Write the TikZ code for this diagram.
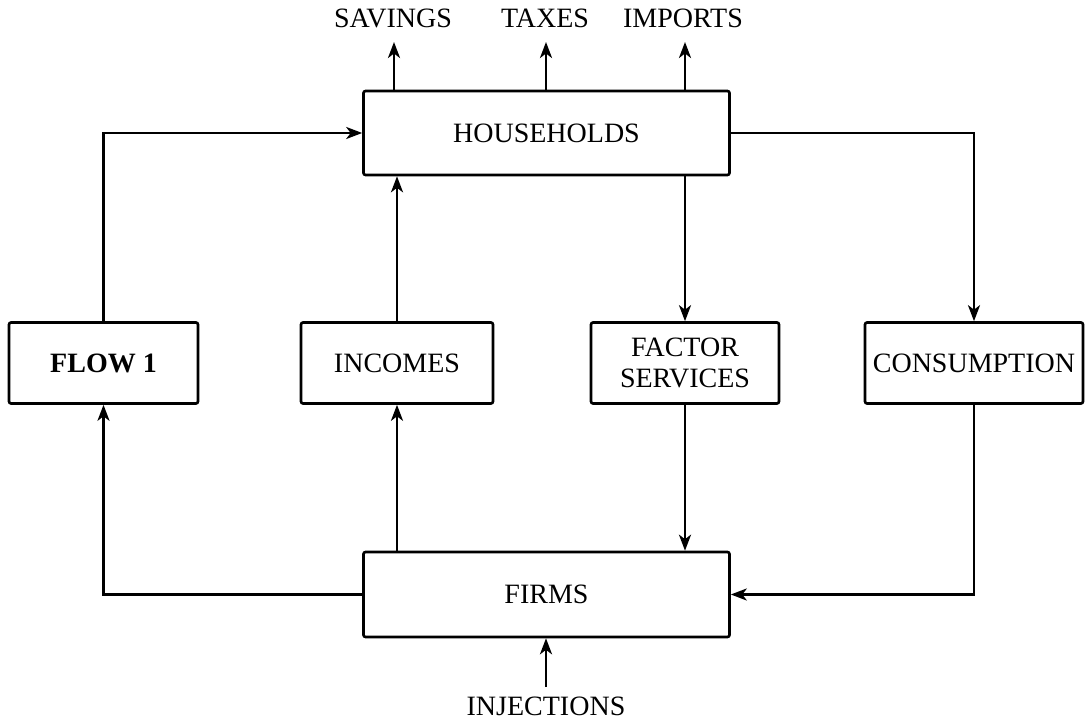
\documentclass[tikz,border=0pt]{standalone}
\usepackage{fontspec}
\setmainfont{Liberation Serif}
\usetikzlibrary{arrows.meta}
\begin{document}
\begin{tikzpicture}[x=1pt,y=-1pt,
  box/.style={draw, line width=2.6pt, rounded corners=2pt, minimum height=81pt, inner sep=0pt, align=center, font=\fontsize{28}{34}\selectfont},
  lbl/.style={inner sep=0pt, anchor=base, font=\fontsize{28}{34}\selectfont},
  arr/.style={line width=2.6pt, -{Stealth[length=16pt,width=12pt,inset=4.5pt]}},
  ln/.style={line width=2.6pt}]
\useasboundingbox (0,0) rectangle (1088,722);
\node[box, minimum width=366pt, minimum height=84pt] (hh) at (546.5,133) {HOUSEHOLDS};
\node[box, minimum width=366pt, minimum height=85pt] (firms) at (546.5,594.5) {FIRMS};
\node[box, minimum width=189pt] (flow) at (103.5,363) {\textbf{FLOW 1}};
\node[box, minimum width=192pt] (inc) at (397,363) {INCOMES};
\node[box, minimum width=188pt] (fs) at (685,363) {FACTOR\\[-3pt]SERVICES};
\node[box, minimum width=218pt] (cons) at (974,363) {CONSUMPTION};
\node[lbl] (sav) at (393,28) {SAVINGS};
\node[lbl] (tax) at (545,28) {TAXES};
\node[lbl] (imp) at (683,28) {IMPORTS};
\node[lbl] (inj) at (546,715) {INJECTIONS};
\coordinate (savtip) at (394,42);
\coordinate (taxtip) at (546,42);
\coordinate (imptip) at (685,42);
\coordinate (injtail) at (546,687);
\draw[arr] (savtip |- hh.north) -- (savtip);
\draw[arr] (taxtip |- hh.north) -- (taxtip);
\draw[arr] (imptip |- hh.north) -- (imptip);
\draw[arr] (injtail) -- (injtail |- firms.south);
\draw[arr] (flow.north) |- (hh.west);
\draw[arr] (firms.west) -| (flow.south);
\draw[arr] (inc.south |- firms.north) -- (inc.south);
\draw[arr] (inc.north) -- (inc.north |- hh.south);
\draw[arr] (fs.north |- hh.south) -- (fs.north);
\draw[arr] (fs.south) -- (fs.south |- firms.north);
\draw[arr] (hh.east) -| (cons.north);
\draw[arr] (cons.south) |- (firms.east);
\end{tikzpicture}
\end{document}
